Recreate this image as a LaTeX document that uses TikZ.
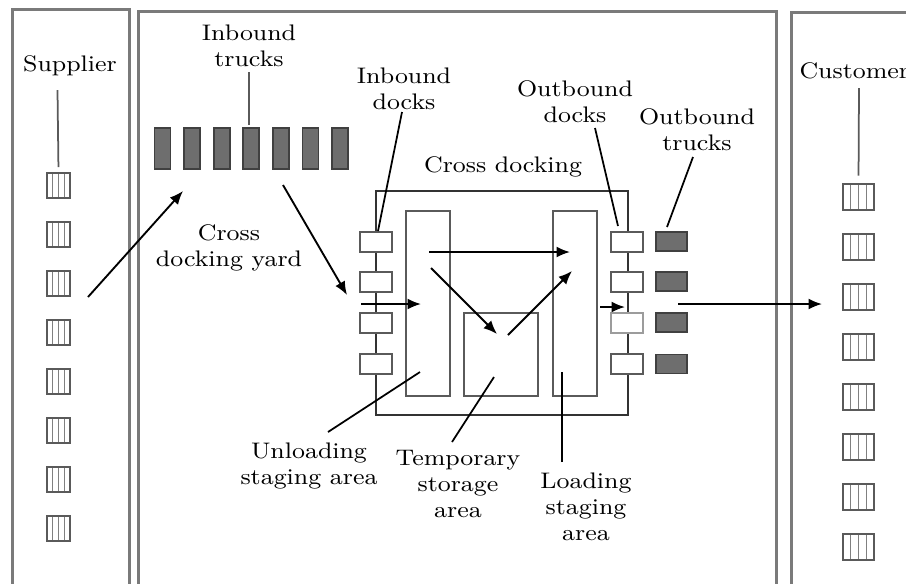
\documentclass[tikz,border=0pt]{standalone}
\usepackage{graphicx}
\usetikzlibrary{arrows.meta,calc}
\definecolor{framegray}{HTML}{7A7A7A}
\definecolor{linegray}{HTML}{5A5A5A}
\definecolor{truckfill}{HTML}{6E6E6E}
\definecolor{truckdraw}{HTML}{404040}
\newcommand{\tx}[1]{\scalebox{1.12}[1]{\begin{tabular}{@{}c@{}}#1\end{tabular}}}
\begin{document}
\begin{tikzpicture}[x=0.4pt,y=-0.4pt,
  font=\fontsize{9}{10.4}\selectfont,
  sz/.style 2 args={minimum width=#1*0.4pt, minimum height=#2*0.4pt},
  frame/.style={draw=framegray, line width=1.2pt, inner sep=0pt},
  area/.style={draw=linegray, line width=0.8pt, fill=white, inner sep=0pt},
  dockbox/.style={draw=linegray, line width=0.8pt, fill=white, inner sep=0pt, sz={32}{20}},
  outtruck/.style={draw=truckdraw, line width=0.7pt, fill=truckfill, inner sep=0pt, sz={31}{19}},
  intruck/.style={draw=truckdraw, line width=0.7pt, fill=truckfill, inner sep=0pt, sz={16}{41}},
  crate/.style={draw=linegray, line width=0.8pt, fill=white, inner sep=0pt,
    path picture={
      \foreach \f in {0.25,0.5,0.75}
        \draw[gray, line width=0.5pt]
          ($(path picture bounding box.north west)!\f!(path picture bounding box.north east)$) --
          ($(path picture bounding box.south west)!\f!(path picture bounding box.south east)$);}},
  lbl/.style={inner sep=0pt, anchor=north},
  arr/.style={-{Latex[length=5.4pt,width=4.4pt]}, line width=0.75pt},
  ptr/.style={line width=0.7pt}
]
\useasboundingbox (0,0) rectangle (906,583);
\clip (0,0) rectangle (906,583);

% outer frames (bottoms run off the picture)
\node[frame, sz={117}{583}] (supbox) at (70.5,300.5) {};
\node[frame, sz={638}{581}] (mainbox) at (457,301.5) {};
\node[frame, sz={140}{580}] (cusbox) at (861,302) {};

% supplier crates
\foreach \k in {0,...,7}
  \node[crate, sz={23}{25}] (sup\k) at (58.5,{185.5+49*\k}) {};
% customer crates
\foreach \k in {0,...,7}
  \node[crate, sz={31}{26}] (cus\k) at (858.5,{197+50*\k}) {};

% inbound trucks
\foreach \k in {0,...,6}
  \node[intruck] (it\k) at ({162.5+29.6*\k},148.5) {};

% cross docking building
\node[draw=black!80, line width=0.8pt, inner sep=0pt, sz={252}{224}] (cd) at (502,303) {};
\node[area, sz={44}{185}] (unl) at (428,303.5) {};
\node[area, sz={44}{185}] (lod) at (575,303.5) {};
\node[area, sz={74}{83}] (tmp) at (501,354.5) {};

% docks and outbound trucks
\foreach \k/\yy in {0/241.5,1/281.5,2/322.5,3/364}{
  \node[dockbox] (ind\k) at (376,\yy) {};
  \node[outtruck] (ot\k) at (671.5,\yy) {};
}
\foreach \k/\yy in {0/241.5,1/281.5,3/364}
  \node[dockbox] (outd\k) at (627,\yy) {};
\node[dockbox, draw=linegray!60] (outd2) at (627,322.5) {};

% labels
\node[lbl] (Lsup) at (70,53) {\tx{Supplier}};
\node[lbl, anchor=north west] (Lcus) at (799,60) {\tx{Customer}};
\node[lbl] (Lit) at (249,22) {\tx{Inbound\\trucks}};
\node[lbl] (Lyard) at (229,222) {\tx{Cross\\docking yard}};
\node[lbl] (Lind) at (404,65) {\tx{Inbound\\docks}};
\node[lbl] (Loutd) at (575,78) {\tx{Outbound\\docks}};
\node[lbl] (Lot) at (697,106) {\tx{Outbound\\trucks}};
\node[lbl] (Lcd) at (503,154) {\tx{Cross docking}};
\node[lbl] (Lunl) at (309,440) {\tx{Unloading\\staging area}};
\node[lbl] (Ltmp) at (458,447) {\tx{Temporary\\storage\\area}};
\node[lbl] (Llod) at (586,470) {\tx{Loading\\staging\\area}};

% pointer coordinates
\coordinate (p1) at (57.5,90);
\coordinate (p2) at (859,88);
\coordinate (p3) at (249,72);
\coordinate (p4a) at (402,112);  \coordinate (p4b) at (378,231);
\coordinate (p5a) at (595,128);  \coordinate (p5b) at (618,226);
\coordinate (p6a) at (693,157);  \coordinate (p6b) at (667,227);
\coordinate (p7a) at (328,432);  \coordinate (p7b) at (420,372);
\coordinate (p8a) at (452,442);  \coordinate (p8b) at (494,377);
\coordinate (p9a) at (562,462);  \coordinate (p9b) at (562,372);

\draw[ptr, draw=linegray, shorten >=2pt] (p1) -- (sup0.north);
\draw[ptr, draw=linegray, shorten >=3pt] (p2) -- (cus0.north);
\draw[ptr, draw=linegray, shorten >=1pt] (p3) -- (it3.north -| p3);
\draw[ptr] (p4a) -- (p4b);
\draw[ptr] (p5a) -- (p5b);
\draw[ptr] (p6a) -- (p6b);
\draw[ptr] (p7a) -- (p7b);
\draw[ptr] (p8a) -- (p8b);
\draw[ptr] (p9a) -- (p9b);

% flow arrows
\coordinate (a1s) at (88,297);   \coordinate (a1e) at (183,191);
\coordinate (a2s) at (283,185);  \coordinate (a2e) at (347,295);
\coordinate (a3s) at (361,304);  \coordinate (a3e) at (421,304);
\coordinate (a4s) at (429,252);  \coordinate (a4e) at (570,252);
\coordinate (a5s) at (431,268);  \coordinate (a5e) at (497,334);
\coordinate (a6s) at (508,335);  \coordinate (a6e) at (572,271);
\coordinate (a7s) at (600,307);  \coordinate (a7e) at (625,307);
\coordinate (a8s) at (678,304);  \coordinate (a8e) at (822,304);
\foreach \i in {1,...,8}
  \draw[arr] (a\i s) -- (a\i e);
\end{tikzpicture}
\end{document}
